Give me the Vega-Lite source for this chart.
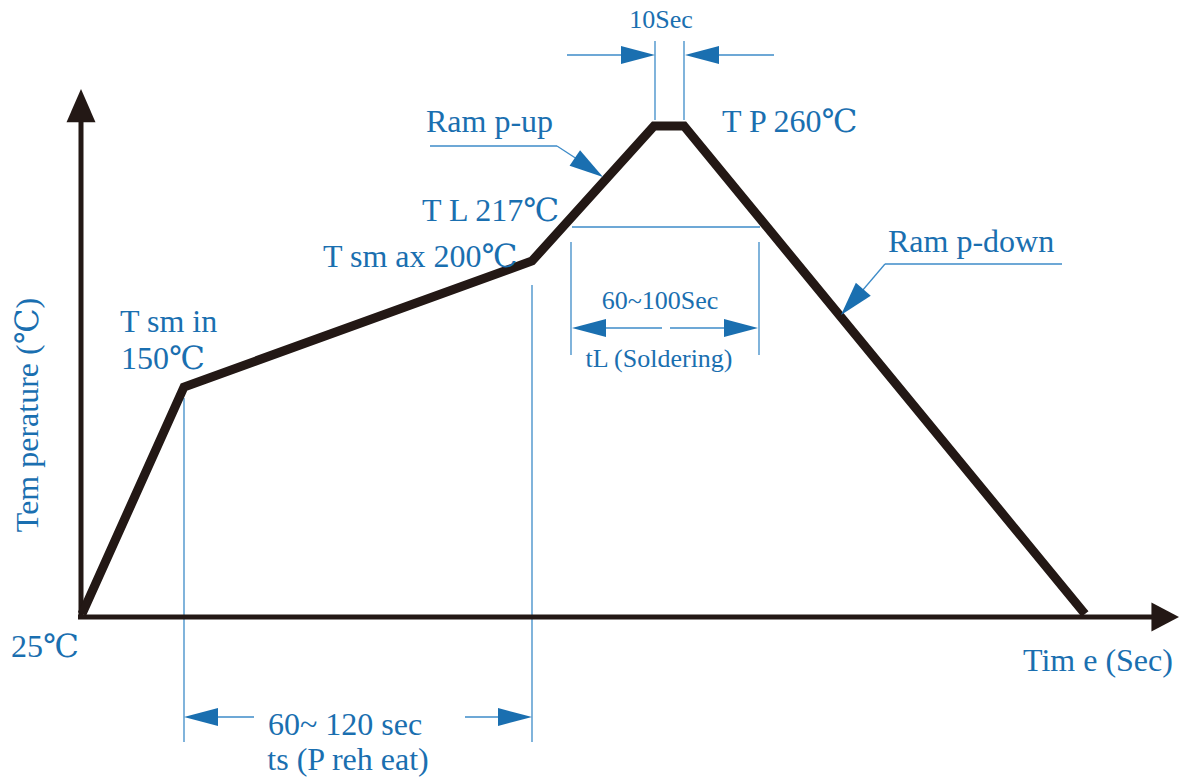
{
  "$schema": "https://vega.github.io/schema/vega-lite/v6.json",
  "width": 1182,
  "height": 778,
  "padding": 0,
  "autosize": {"type": "fit", "contains": "padding"},
  "background": "white",
  "config": {"view": {"stroke": null}},
  "datasets": {
    "profile": [
      {"i": 1, "x": 82, "y": 614},
      {"i": 2, "x": 184, "y": 387},
      {"i": 3, "x": 532, "y": 261},
      {"i": 4, "x": 654, "y": 126},
      {"i": 5, "x": 684, "y": 126},
      {"i": 6, "x": 1085, "y": 614}
    ],
    "axes": [
      {"x": 81, "y": 619, "x2": 81, "y2": 118},
      {"x": 78, "y": 617, "x2": 1152, "y2": 617}
    ],
    "axisArrows": [
      {"x": 81, "y": 89, "dir": "up"},
      {"x": 1179, "y": 617, "dir": "right"}
    ],
    "guides": [
      {"x": 184, "y": 398, "x2": 184, "y2": 742},
      {"x": 532, "y": 285, "x2": 532, "y2": 742},
      {"x": 218, "y": 717, "x2": 254, "y2": 717},
      {"x": 465, "y": 717, "x2": 500, "y2": 717},
      {"x": 572, "y": 227, "x2": 760, "y2": 227},
      {"x": 571, "y": 242, "x2": 571, "y2": 355},
      {"x": 759, "y": 242, "x2": 759, "y2": 355},
      {"x": 604, "y": 328, "x2": 662, "y2": 328},
      {"x": 670, "y": 328, "x2": 726, "y2": 328},
      {"x": 655, "y": 41, "x2": 655, "y2": 120},
      {"x": 684, "y": 41, "x2": 684, "y2": 120},
      {"x": 567, "y": 55, "x2": 623, "y2": 55},
      {"x": 718, "y": 55, "x2": 774, "y2": 55},
      {"x": 430, "y": 146, "x2": 557, "y2": 146},
      {"x": 557, "y": 146, "x2": 580, "y2": 161},
      {"x": 885, "y": 264, "x2": 1062, "y2": 264},
      {"x": 885, "y": 264, "x2": 862, "y2": 291}
    ],
    "arrows": [
      {"x": 184, "y": 717, "dir": "left"},
      {"x": 532, "y": 717, "dir": "right"},
      {"x": 572, "y": 328, "dir": "left"},
      {"x": 758, "y": 328, "dir": "right"},
      {"x": 655, "y": 55, "dir": "right"},
      {"x": 685, "y": 55, "dir": "left"},
      {"x": 603, "y": 177, "dir": "rampup"},
      {"x": 841, "y": 315, "dir": "rampdown"}
    ],
    "labels": [
      {"x": 426, "y": 132, "text": "Ram p-up", "grp": "L"},
      {"x": 722, "y": 132, "text": "T P 260℃", "grp": "L"},
      {"x": 422, "y": 221, "text": "T L 217℃", "grp": "L"},
      {"x": 323, "y": 267, "text": "T sm ax 200℃", "grp": "L"},
      {"x": 120, "y": 332, "text": "T sm in", "grp": "L"},
      {"x": 121, "y": 369, "text": "150℃", "grp": "L"},
      {"x": 888, "y": 252, "text": "Ram p-down", "grp": "L"},
      {"x": 1023, "y": 671, "text": "Tim e (Sec)", "grp": "L"},
      {"x": 11, "y": 657, "text": "25℃", "grp": "L"},
      {"x": 345, "y": 735, "text": "60~ 120 sec", "grp": "C"},
      {"x": 348, "y": 770, "text": "ts (P reh eat)", "grp": "C"},
      {"x": 661, "y": 28, "text": "10Sec", "grp": "S"},
      {"x": 660, "y": 309, "text": "60~100Sec", "grp": "S"},
      {"x": 659, "y": 367, "text": "tL (Soldering)", "grp": "S"},
      {"x": 28, "y": 415, "text": "Tem perature (℃)", "grp": "R"}
    ]
  },
  "encoding": {
    "x": {"field": "x", "type": "quantitative", "axis": null, "scale": {"domain": [0, 1182], "nice": false, "zero": false}},
    "y": {"field": "y", "type": "quantitative", "axis": null, "scale": {"domain": [0, 778], "nice": false, "zero": false, "reverse": true}}
  },
  "layer": [
    {
      "data": {"name": "guides"},
      "mark": {"type": "rule", "color": "#3d8bc8", "strokeWidth": 1.3},
      "encoding": {"x2": {"field": "x2"}, "y2": {"field": "y2"}}
    },
    {
      "data": {"name": "axes"},
      "mark": {"type": "rule", "color": "#231815", "strokeWidth": 5, "strokeCap": "butt"},
      "encoding": {"x2": {"field": "x2"}, "y2": {"field": "y2"}}
    },
    {
      "data": {"name": "profile"},
      "mark": {"type": "line", "color": "#231815", "strokeWidth": 9, "strokeJoin": "miter", "strokeCap": "butt"},
      "encoding": {"order": {"field": "i", "type": "quantitative"}}
    },
    {
      "data": {"name": "axisArrows"},
      "transform": [{"filter": "datum.dir === 'up'"}],
      "mark": {"type": "point", "filled": true, "opacity": 1, "color": "#231815", "shape": "M0,0L-2.3,-1L-2.3,1Z", "size": 841, "angle": 270}
    },
    {
      "data": {"name": "axisArrows"},
      "transform": [{"filter": "datum.dir === 'right'"}],
      "mark": {"type": "point", "filled": true, "opacity": 1, "color": "#231815", "shape": "M0,0L-1.9,-1L-1.9,1Z", "size": 841, "angle": 0}
    },
    {
      "data": {"name": "arrows"},
      "transform": [{"filter": "datum.dir === 'right'"}],
      "mark": {"type": "point", "filled": true, "opacity": 1, "color": "#1a6fb0", "shape": "M0,0L-2,-0.53L-2,0.53Z", "size": 1156, "angle": 0}
    },
    {
      "data": {"name": "arrows"},
      "transform": [{"filter": "datum.dir === 'left'"}],
      "mark": {"type": "point", "filled": true, "opacity": 1, "color": "#1a6fb0", "shape": "M0,0L-2,-0.53L-2,0.53Z", "size": 1156, "angle": 180}
    },
    {
      "data": {"name": "arrows"},
      "transform": [{"filter": "datum.dir === 'rampup'"}],
      "mark": {"type": "point", "filled": true, "opacity": 1, "color": "#1a6fb0", "shape": "M0,0L-2,-0.55L-2,0.55Z", "size": 1156, "angle": 34}
    },
    {
      "data": {"name": "arrows"},
      "transform": [{"filter": "datum.dir === 'rampdown'"}],
      "mark": {"type": "point", "filled": true, "opacity": 1, "color": "#1a6fb0", "shape": "M0,0L-2,-0.58L-2,0.58Z", "size": 1156, "angle": 131}
    },
    {
      "data": {"name": "labels"},
      "transform": [{"filter": "datum.grp === 'L'"}],
      "mark": {"type": "text", "font": "Liberation Serif, DejaVu Serif", "fontSize": 32, "align": "left", "baseline": "alphabetic", "color": "#1a6fb0"},
      "encoding": {"text": {"field": "text"}}
    },
    {
      "data": {"name": "labels"},
      "transform": [{"filter": "datum.grp === 'C'"}],
      "mark": {"type": "text", "font": "Liberation Serif, DejaVu Serif", "fontSize": 32, "align": "center", "baseline": "alphabetic", "color": "#1a6fb0"},
      "encoding": {"text": {"field": "text"}}
    },
    {
      "data": {"name": "labels"},
      "transform": [{"filter": "datum.grp === 'S'"}],
      "mark": {"type": "text", "font": "Liberation Serif, DejaVu Serif", "fontSize": 26, "align": "center", "baseline": "alphabetic", "color": "#1a6fb0"},
      "encoding": {"text": {"field": "text"}}
    },
    {
      "data": {"name": "labels"},
      "transform": [{"filter": "datum.grp === 'R'"}],
      "mark": {"type": "text", "font": "Liberation Serif, DejaVu Serif", "fontSize": 32, "align": "center", "baseline": "middle", "angle": 270, "color": "#1a6fb0"},
      "encoding": {"text": {"field": "text"}}
    }
  ]
}
